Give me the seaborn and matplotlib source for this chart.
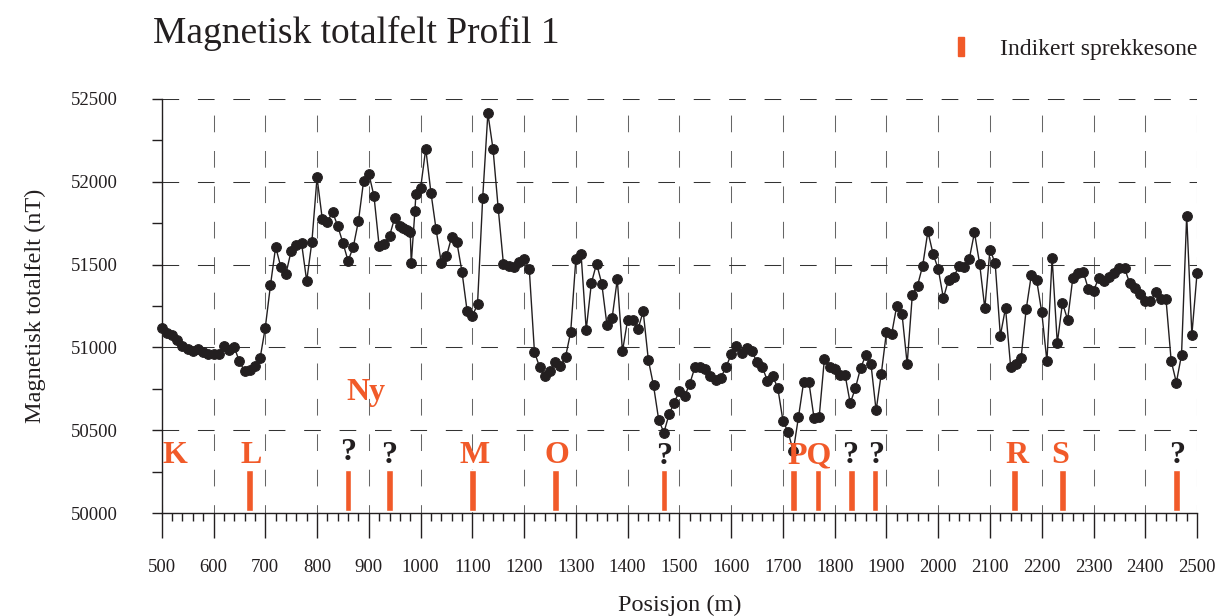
import numpy as np
import pandas as pd
import matplotlib
matplotlib.use("Agg")
import matplotlib.pyplot as plt
import matplotlib.ticker as ticker
import seaborn as sns

# measured profile (position in m, total field in nT)
pos_a = list(range(500, 951, 10))
field_a = [51119, 51087, 51073, 51046, 51006, 50992, 50976, 50990, 50970, 50962,
           50958, 50962, 51006, 50982, 51002, 50915, 50857, 50865, 50887, 50935,
           51119, 51375, 51607, 51486, 51446, 51583, 51617, 51631, 51401, 51637,
           52026, 51778, 51758, 51818, 51732, 51631, 51522, 51607, 51764, 52006,
           52050, 51913, 51611, 51623, 51673, 51782]
pos_b = [960, 967, 973, 980, 982, 989, 991]
field_b = [51735, 51722, 51710, 51697, 51508, 51821, 51928]
pos_c = list(range(1000, 2501, 10))
field_c = [51960, 52200, 51935, 51712, 51510, 51550, 51667, 51637, 51456, 51218,
           51190, 51260, 51903, 52413, 52197, 51839, 51506, 51490, 51484, 51516,
           51536, 51472, 50972, 50881, 50825, 50855, 50911, 50885, 50942, 51093,
           51536, 51566, 51107, 51389, 51506, 51385, 51137, 51177, 51411, 50976,
           51167, 51167, 51109, 51218, 50925, 50770, 50563, 50486, 50595, 50667,
           50736, 50704, 50780, 50881, 50881, 50871, 50829, 50804, 50817, 50881,
           50958, 51008, 50968, 50996, 50976, 50911, 50881, 50800, 50827, 50756,
           50558, 50488, 50374, 50579, 50790, 50794, 50575, 50579, 50927, 50881,
           50867, 50831, 50835, 50663, 50754, 50875, 50952, 50901, 50619, 50841,
           51093, 51080, 51253, 51203, 50900, 51319, 51373, 51494, 51700, 51565,
           51474, 51298, 51409, 51423, 51494, 51488, 51534, 51694, 51504, 51236,
           51591, 51508, 51071, 51238, 50879, 50899, 50935, 51232, 51440, 51409,
           51212, 50915, 51540, 51026, 51268, 51167, 51419, 51448, 51458, 51353,
           51343, 51417, 51399, 51427, 51448, 51478, 51478, 51387, 51357, 51323,
           51278, 51278, 51333, 51292, 51292, 50919, 50788, 50954, 51796, 51077,
           51448]

# indicated fracture zones
zone_pos = [670, 860, 940, 1100, 1260, 1470, 1720, 1768, 1832, 1878, 2148, 2240, 2460]
zone_labels = ["K", "L", "?", "?", "M", "O", "?", "PQ", "?", "?", "R", "S", "?"]
zone_label_pos = [525, 672, 860, 940, 1104, 1264, 1471, 1751, 1830, 1879, 2153, 2236, 2461]
zone_label_y = [50300, 50300, 50318, 50300, 50300, 50300, 50296, 50300, 50300, 50300, 50300, 50300, 50300]
zone_bottom = 50012
zone_height = 250

ORANGE = "#F15A29"
INK = "#231F20"

df = pd.DataFrame({"pos": pos_a + pos_b + pos_c, "field": field_a + field_b + field_c})

sns.set_style("ticks")
plt.rcParams["font.family"] = ["Liberation Serif", "DejaVu Serif"]

fig = plt.figure(figsize=(12.18, 6.16), dpi=100)
ax = fig.add_axes([0.1328, 0.1672, 0.8500, 0.6721])

# fracture zone bars
ax.bar(zone_pos, zone_height, bottom=zone_bottom, width=13, color=ORANGE, zorder=2)
for x, lab, y in zip(zone_label_pos, zone_labels, zone_label_y):
    col = INK if lab == "?" else ORANGE
    ax.text(x, y, lab, ha="center", va="baseline", fontsize=23,
            fontweight="bold", color=col, zorder=4)
ax.text(895, 50680, "Ny", ha="center", va="baseline", fontsize=23,
        fontweight="bold", color=ORANGE, zorder=4)

sns.lineplot(data=df, x="pos", y="field", ax=ax, color=INK, linewidth=1.0,
             marker="o", markersize=7, markeredgecolor=INK,
             estimator=None, sort=False, zorder=3)
for ln in ax.lines:
    ln.set_clip_on(False)

ax.set_xlim(500, 2500)
ax.set_ylim(50000, 52500)
ax.xaxis.set_major_locator(ticker.MultipleLocator(100))
ax.xaxis.set_minor_locator(ticker.MultipleLocator(20))
ax.yaxis.set_major_locator(ticker.MultipleLocator(500))
ax.yaxis.set_minor_locator(ticker.MultipleLocator(250))

ax.tick_params(axis="x", which="major", direction="out", length=18, width=1.0,
               labelsize=13.5, pad=15, colors=INK, bottom=True)
ax.tick_params(axis="x", which="minor", direction="out", length=6, width=1.0,
               colors=INK, bottom=True)
ax.tick_params(axis="y", which="both", direction="out", length=7, width=1.0,
               labelsize=13.5, pad=25, colors=INK, left=True)

for s in ["top", "right"]:
    ax.spines[s].set_visible(False)
for s in ["left", "bottom"]:
    ax.spines[s].set_linewidth(1.0)
    ax.spines[s].set_color(INK)

ax.set_axisbelow(True)
ax.grid(axis="y", which="major", color="#333333", linewidth=0.75, linestyle=(0, (16, 18)))
ax.grid(axis="x", which="major", color="#666666", linewidth=0.75, linestyle=(8, (16, 18)))

ax.set_xlabel("Posisjon (m)", fontsize=17.5, color=INK, labelpad=14)
ax.set_ylabel("Magnetisk totalfelt (nT)", fontsize=17.5, color=INK)
ax.yaxis.set_label_coords(-0.112, 0.5)

fig.text(0.1256, 0.9297, "Magnetisk totalfelt Profil 1", fontsize=27,
         ha="left", va="baseline", color=INK)
fig.text(0.821, 0.9107, "Indikert sprekkesone", fontsize=17,
         ha="left", va="baseline", color=INK)
fig.patches.append(plt.Rectangle((958 / 1218, 1 - 56 / 616), 6 / 1218, 19 / 616,
                                 transform=fig.transFigure, color=ORANGE))

fig.savefig("out.png", dpi=100)
